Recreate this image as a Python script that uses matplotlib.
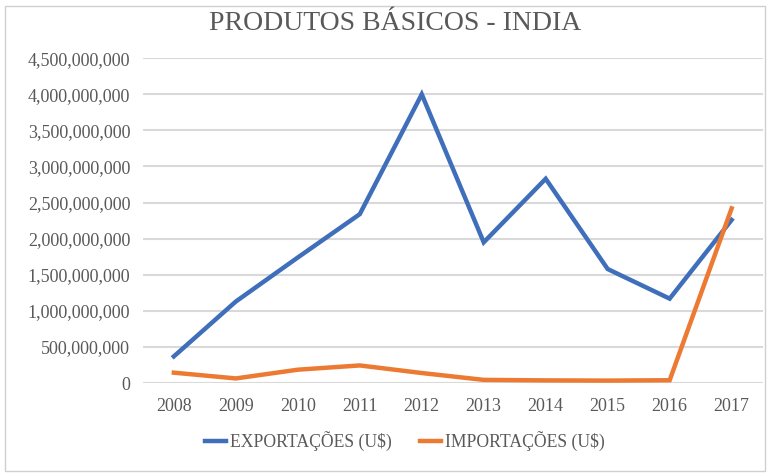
import matplotlib
matplotlib.use('Agg')
import matplotlib.pyplot as plt
import matplotlib.patches as patches
from matplotlib.ticker import FuncFormatter, MultipleLocator

years = ['2008', '2009', '2010', '2011', '2012', '2013', '2014', '2015', '2016', '2017']
exportacoes = [370e6, 1130e6, 1740e6, 2340e6, 4000e6, 1950e6, 2830e6, 1580e6, 1170e6, 2260e6]
importacoes = [145e6, 65e6, 186e6, 245e6, 140e6, 45e6, 38e6, 35e6, 40e6, 2420e6]

plt.rcParams['font.family'] = ['Liberation Serif', 'DejaVu Serif']
text_color = '#595959'

fig = plt.figure(figsize=(7.68, 4.73), dpi=100)
ax = fig.add_axes([0.186, 0.19, 0.807, 0.687])

# light frame around the whole chart
fig.patches.append(patches.Rectangle((0.006, 0.004), 0.99, 0.983, transform=fig.transFigure,
                                     fill=False, edgecolor='#d0d0d0', linewidth=1))

x = range(len(years))
ax.plot(x, exportacoes, color='#3f6fba', linewidth=3.2, label='EXPORTAÇÕES (U$)',
        solid_joinstyle='miter', zorder=3)
ax.plot(x, importacoes, color='#ec7a32', linewidth=3.2, label='IMPORTAÇÕES (U$)',
        solid_joinstyle='miter', zorder=3)

ax.set_xlim(-0.5, len(years) - 0.5)
ax.set_ylim(0, 4.5e9)
ax.set_xticks(list(x))
ax.set_xticklabels(years)
ax.yaxis.set_major_locator(MultipleLocator(5e8))
ax.yaxis.set_major_formatter(FuncFormatter(lambda v, p: f'{int(v):,}'))
ax.grid(axis='y', color='#d9d9d9', linewidth=1.5)
ax.set_axisbelow(True)
for s in ax.spines.values():
    s.set_visible(False)
ax.tick_params(length=0, labelsize=13, colors=text_color)
ax.tick_params(axis='y', pad=9)
ax.tick_params(axis='x', pad=11)

fig.text(0.514, 0.951, 'PRODUTOS BÁSICOS - INDIA', ha='center', va='center',
         fontsize=20, color=text_color)

leg = fig.legend(loc='center', bbox_to_anchor=(0.527, 0.068), ncol=2, frameon=False,
                 fontsize=12.7, handlelength=1.2, handletextpad=0.2, columnspacing=1.6)
for t in leg.get_texts():
    t.set_color(text_color)

fig.savefig('out.png', dpi=100)
